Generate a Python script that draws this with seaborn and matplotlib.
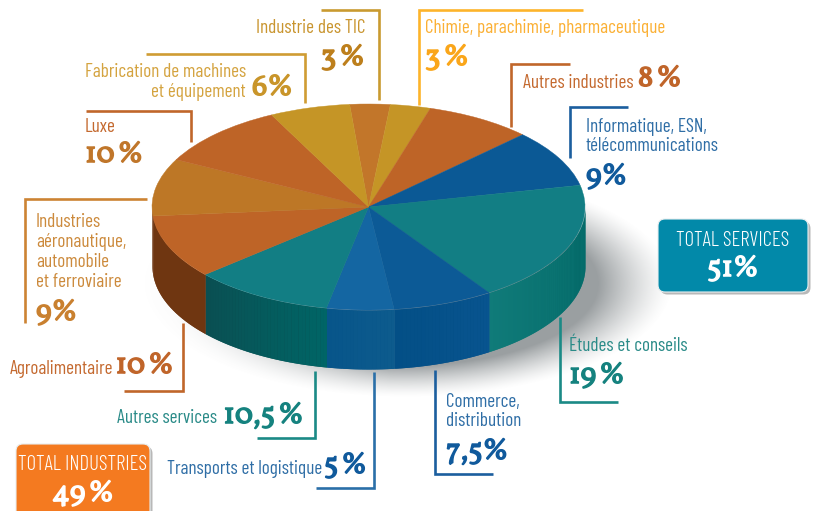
import numpy as np
import seaborn as sns
import matplotlib
matplotlib.use("Agg")
import matplotlib.pyplot as plt
import matplotlib.patheffects as pe
from matplotlib.font_manager import FontProperties
from matplotlib.patches import FancyBboxPatch
from matplotlib.transforms import Affine2D

# secteurs dans l'ordre du camembert, sens horaire depuis le haut
sectors = ["Industrie des TIC", "Chimie, parachimie, pharmaceutique", "Autres industries",
           "Informatique, ESN,\ntélécommunications", "Études et conseils", "Commerce,\ndistribution",
           "Transports et logistique", "Autres services", "Agroalimentaire",
           "Industries\naéronautique,\nautomobile\net ferroviaire", "Luxe",
           "Fabrication de machines\net équipement"]
shares = [3, 3, 8, 9, 19, 7.5, 5, 10.5, 10, 9, 10, 6]
share_labels = ["3\u2009%", "3\u2009%", "8\u2009%", "9%", "19\u2009%", "7,5%", "5\u2009%", "10,5\u2009%",
                "10\u2009%", "9%", "10\u2009%", "6%"]
total_labels = ["TOTAL SERVICES", "TOTAL INDUSTRIES"]
total_values = ["51%", "49\u2009%"]

top_colors = ["#c2762a", "#c59526", "#be6427", "#0b5995", "#127e84", "#0c5a96",
              "#1466a2", "#127e84", "#be6427", "#bd7726", "#be6427", "#c59526"]
side_colors = [("#c2762a", "#c2762a"), ("#c59526", "#c59526"), ("#be6427", "#be6427"),
               ("#0b5995", "#0b5995"), ("#107b79", "#006564"), ("#034f86", "#08548f"),
               ("#07558a", "#0d5b8d"), ("#0a4f52", "#006566"), ("#6f3611", "#6f3611"),
               ("#6f3611", "#6f3611"), ("#be6427", "#be6427"), ("#c59526", "#c59526")]
name_colors = ["#c9952f", "#fbb034", "#c4692f", "#2f6ea6", "#2a8b88", "#2f6ea6",
               "#2f6ea6", "#2a8b88", "#c4692f", "#cc8a3c", "#c4692f", "#d4a33f"]
pct_colors = ["#bd7f1c", "#faa61a", "#c0652a", "#105a9c", "#15827f", "#105a9c",
              "#105a9c", "#15827f", "#c0652a", "#c9802f", "#c0762a", "#c9952a"]
line_colors = ["#c99a30", "#fdb42b", "#c0662a", "#1b5e9e", "#1b8a86", "#1b5e9e",
               "#2a6fa8", "#1b8a86", "#c0662a", "#cc8333", "#c0662a", "#cf9c33"]

# mise en page en pixels
CX, CY, RX, RY, DEPTH = 368.5, 207, 216.5, 103, 59
leader_lines = [
    [(321, 10), (379, 10), (379, 100)],
    [(583, 10), (419, 10), (419, 105)],
    [(570, 64), (511, 64), (511, 127)],
    [(628, 107), (570, 107), (570, 158)],
    [(560, 317), (560, 402), (618, 402)],
    [(435, 370), (435, 474), (493, 474)],
    [(374, 372), (374, 488), (316, 488)],
    [(315, 371), (315, 438), (257, 438)],
    [(183, 323), (183, 391), (124, 391)],
    [(147, 199), (25, 199), (25, 323)],
    [(86, 111), (191, 111), (191, 142)],
    [(146, 54), (305, 54), (305, 103)],
]
# (x, y, ha) du nom puis (x, y, ha) du pourcentage
text_pos = [
    ((365, 28, "right"), (365, 58, "right")),
    ((425, 28, "left"), (425, 58, "left")),
    ((523, 83, "left"), (682, 79, "right")),
    ((586, 136.5, "left"), (586, 177, "left")),
    ((569, 346, "left"), (569, 376, "left")),
    ((446, 411.5, "left"), (446, 452, "left")),
    ((167, 469, "left"), (367, 466, "right")),
    ((117, 418, "left"), (304, 416, "right")),
    ((10, 369, "left"), (174, 366, "right")),
    ((36, 252, "left"), (36, 313, "left")),
    ((85, 127, "left"), (85, 155, "left")),
    ((246, 82, "right"), (293, 88, "right")),
]

NAME_FONT = ["Barlow Condensed", "Liberation Sans"]
PCT_FONT = ["Vollkorn", "DejaVu Serif"]


def pct_text(ax, x, y, label, color, ha):
    fp = FontProperties(family=PCT_FONT, weight="bold", size=21.5)
    # trait de même couleur : les chiffres de la référence sont très gras
    ax.text(x, y, label, color=color, fontproperties=fp, ha=ha, va="center", zorder=6,
            path_effects=[pe.withStroke(linewidth=1.1, foreground=color)])


def draw_shadow(ax):
    yy, xx = np.mgrid[0:511, 0:816]
    d = np.sqrt(((xx - 405) / 268) ** 2 + ((yy - 283) / 114) ** 2)
    alpha = np.clip(1.0 - d, 0, 1) / 0.28
    alpha = np.clip(alpha, 0, 1) ** 1.4 * 0.68
    # plus marquée vers la droite que vers la gauche
    alpha *= np.clip((xx - 130) / 260, 0.15, 1)
    rgba = np.zeros((511, 816, 4))
    rgba[..., :3] = (0.42, 0.45, 0.46)
    rgba[..., 3] = alpha
    ax.imshow(rgba, extent=(0, 816, 511, 0), aspect="auto", zorder=1, interpolation="bilinear")


def draw_side(ax, wedge, colors):
    t = np.radians(np.arange(np.floor(wedge.theta1), np.ceil(wedge.theta2) + 1.0, 1.0))
    t = np.clip(t, np.radians(wedge.theta1), np.radians(wedge.theta2))
    t = t[np.sin(t) <= 0.001]
    if len(t) < 2:
        return
    # base lissée pour le contour, puis bandes sans antialias pour éviter les stries
    x = CX + RX * np.cos(t)
    y = CY - RY * np.sin(t)
    ax.fill_between(x, y, y + DEPTH, color=colors[0], linewidth=0, zorder=2)
    bands = sns.blend_palette(colors, len(t) - 1)
    for i in range(len(t) - 1):
        tt = np.linspace(t[i], t[i + 1], 4)
        x = CX + RX * np.cos(tt)
        y = CY - RY * np.sin(tt)
        ax.fill_between(x, y, y + DEPTH, color=bands[i], linewidth=0, antialiased=False, zorder=2.1)


def draw_total(ax, box, label, value, color):
    x, y, w, h = box
    ax.add_patch(FancyBboxPatch((x + 2.5, y + 2.5), w, h, boxstyle="round,pad=0,rounding_size=7",
                                fc="#9a9a9a", ec="none", alpha=0.7, zorder=4))
    ax.add_patch(FancyBboxPatch((x, y), w, h, boxstyle="round,pad=0,rounding_size=7",
                                fc=color, ec="#e8eef0", lw=0.8, zorder=5))
    ax.text(x + w / 2, y + 21, label, color="white", fontsize=15, family=NAME_FONT,
            fontweight=300, ha="center", va="center", zorder=6)
    pct_text(ax, x + w / 2, y + 50, value, "white", "center")


def main():
    sns.set_theme(style="white")
    fig, ax = plt.subplots(figsize=(8.16, 5.11), dpi=100)
    fig.subplots_adjust(0, 0, 1, 1)

    wedges, _ = ax.pie(shares, startangle=95, counterclock=False, colors=top_colors,
                       wedgeprops={"linewidth": 0.3, "zorder": 3})
    ax.set_aspect("auto")
    ellipse = Affine2D().scale(RX, -RY).translate(CX, CY) + ax.transData
    for wedge, top in zip(wedges, top_colors):
        wedge.set_transform(ellipse)
        wedge.set_edgecolor(top)

    draw_shadow(ax)
    ax.set_xlim(0, 816)
    ax.set_ylim(511, 0)
    for wedge, colors in zip(wedges, side_colors):
        draw_side(ax, wedge, colors)

    for line, color in zip(leader_lines, line_colors):
        xs, ys = zip(*line)
        ax.plot(xs, ys, color=color, lw=1.9, solid_joinstyle="miter", solid_capstyle="butt", zorder=2.5)

    for i, name in enumerate(sectors):
        (nx, ny, nha), (px, py, pha) = text_pos[i]
        ax.text(nx, ny, name, color=name_colors[i], fontsize=13.8, family=NAME_FONT,
                ha=nha, va="center", linespacing=1.14, zorder=6)
        pct_text(ax, px, py, share_labels[i], pct_colors[i], pha)

    draw_total(ax, (658, 219, 150, 73), total_labels[0], total_values[0], "#0289a9")
    draw_total(ax, (16, 444, 134, 80), total_labels[1], total_values[1], "#f47a20")

    ax.axis("off")
    fig.savefig("out.png", dpi=100)
    plt.close(fig)


if __name__ == "__main__":
    main()
